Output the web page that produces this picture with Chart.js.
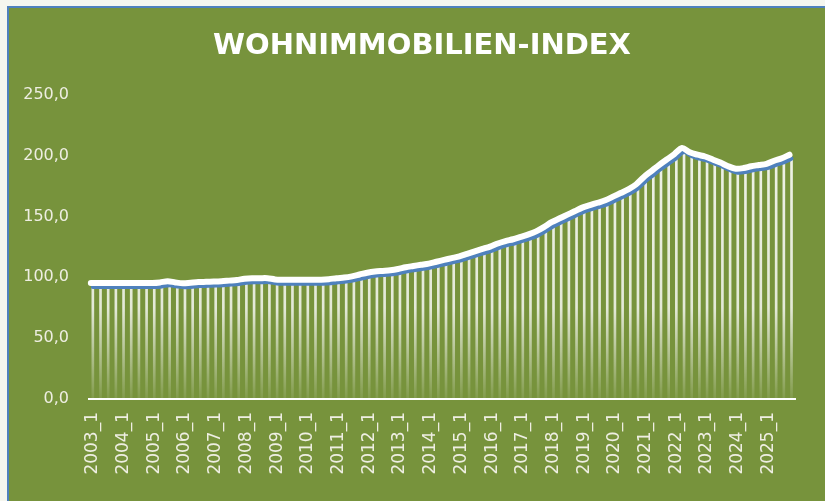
<!DOCTYPE html>
<html lang="de">
<head>
    <meta charset="UTF-8">
    <title>Wohnimmobilien-Index</title>
    <script src="https://cdn.jsdelivr.net/npm/chart.js"></script>
    <style>
        body {
            margin: 0;
            padding: 0;
            background: #f5f6ef;
            width: 825px;
            height: 501px;
            overflow: hidden;
            position: relative;
        }
        .frame {
            position: absolute;
            left: 7px;
            top: 6px;
            right: 0;
            bottom: 0;
            border-left: 2px solid #4f81bd;
            border-top: 2px solid #4f81bd;
            background: #77933c;
        }
        canvas {
            position: absolute;
            left: 0;
            top: 0;
        }
    </style>
</head>
<body>
    <div class="frame"></div>
    <canvas id="indexChart" width="825" height="501"></canvas>

    <script>
        // Quartale 2003_1 bis 2025_4
        const firstYear = 2003;
        const lastYear = 2025;
        const quarterLabels = [];
        for (let y = firstYear; y <= lastYear; y++) {
            for (let q = 1; q <= 4; q++) quarterLabels.push(y + '_' + q);
        }

        // Indexwerte je Quartal
        const indexValues = [
            92.0, 92.0, 92.0, 92.0,     // 2003
            92.0, 92.0, 92.0, 92.0,     // 2004
            92.0, 92.5, 93.5, 92.5,     // 2005
            91.8, 92.3, 92.8, 93.0,     // 2006
            93.2, 93.5, 94.0, 94.5,     // 2007
            95.5, 96.0, 96.0, 96.0,     // 2008
            95.0, 94.8, 94.8, 94.8,     // 2009
            94.8, 94.8, 94.8, 95.2,     // 2010
            96.0, 96.5, 97.5, 99.0,     // 2011
            100.5, 101.5, 102.0, 102.5, // 2012
            103.5, 105.0, 106.0, 107.0, // 2013
            108.0, 109.5, 111.0, 112.5, // 2014
            114.0, 116.0, 118.0, 120.0, // 2015
            122.0, 124.5, 126.5, 128.0, // 2016
            130.0, 132.0, 134.5, 138.0, // 2017
            142.0, 145.0, 148.0, 151.0, // 2018
            154.0, 156.0, 158.0, 160.0, // 2019
            163.0, 166.0, 169.0, 173.0, // 2020
            179.0, 184.0, 189.0, 193.5, // 2021
            198.0, 203.0, 199.5, 197.5, // 2022
            196.0, 193.5, 191.0, 188.0, // 2023
            186.0, 186.5, 188.0, 189.0, // 2024
            190.0, 192.5, 194.5, 197.5  // 2025
        ];

        const yTicks = [0, 50, 100, 150, 200, 250];

        const labelColor = '#eeeee2';

        // weisse "Schatten"-Linie leicht nach oben links versetzt
        const shiftPlugin = {
            id: 'shiftLine',
            beforeDatasetDraw(chart, args) {
                if (args.index === 2) {
                    chart.ctx.save();
                    chart.ctx.translate(-2, -4);
                }
            },
            afterDatasetDraw(chart, args) {
                if (args.index === 2) chart.ctx.restore();
            }
        };

        function dropGradient(context) {
            const area = context.chart.chartArea;
            if (!area) return 'rgba(255,255,255,0.8)';
            const g = context.chart.ctx.createLinearGradient(0, area.top, 0, area.bottom);
            g.addColorStop(0, 'rgba(255,255,255,0.9)');
            g.addColorStop(0.7, 'rgba(255,255,255,0.8)');
            g.addColorStop(1, 'rgba(255,255,255,0.08)');
            return g;
        }

        const ctx = document.getElementById('indexChart').getContext('2d');
        const chart = new Chart(ctx, {
            type: 'bar',
            data: {
                labels: quarterLabels,
                datasets: [
                    {
                        type: 'bar',
                        data: indexValues,
                        backgroundColor: dropGradient,
                        barThickness: 2,
                        order: 3
                    },
                    {
                        type: 'line',
                        data: indexValues,
                        borderColor: '#4f81bd',
                        borderWidth: 4,
                        pointRadius: 0,
                        tension: 0.3,
                        borderCapStyle: 'round',
                        borderJoinStyle: 'round',
                        clip: false,
                        order: 2
                    },
                    {
                        type: 'line',
                        data: indexValues,
                        borderColor: '#ffffff',
                        borderWidth: 6,
                        pointRadius: 0,
                        tension: 0.3,
                        borderCapStyle: 'round',
                        borderJoinStyle: 'round',
                        clip: false,
                        order: 1
                    }
                ]
            },
            options: {
                responsive: false,
                animation: false,
                layout: {
                    padding: { top: 8, left: 33, right: 14, bottom: 0 }
                },
                plugins: {
                    legend: { display: false },
                    tooltip: { enabled: false },
                    title: {
                        display: true,
                        text: 'WOHNIMMOBILIEN-INDEX',
                        color: '#ffffff',
                        font: { family: 'DejaVu Sans', weight: 'bold', size: 29 },
                        padding: { top: 21, bottom: 31 }
                    }
                },
                scales: {
                    x: {
                        offset: true,
                        grid: { display: false, drawTicks: false },
                        border: { display: true, color: '#ffffff', width: 2 },
                        afterFit: (scale) => {
                            scale.height = 102;
                        },
                        ticks: {
                            autoSkip: false,
                            maxRotation: 90,
                            minRotation: 90,
                            padding: 13,
                            color: labelColor,
                            font: { family: 'DejaVu Sans', size: 17 },
                            callback: (v, i) => (i % 4 === 0 ? quarterLabels[i] : '')
                        }
                    },
                    y: {
                        min: 0,
                        max: 250,
                        grid: { display: false, drawTicks: false },
                        border: { display: false },
                        afterBuildTicks: (scale) => {
                            scale.ticks = yTicks.map(v => ({ value: v }));
                        },
                        afterFit: (scale) => {
                            scale.width = 56;
                            // Beschriftung nicht auf die schmale Achsenbox beschneiden
                            scale._computeLabelArea = () => undefined;
                        },
                        ticks: {
                            padding: 20,
                            color: labelColor,
                            font: { family: 'DejaVu Sans', size: 16 },
                            callback: (v) => v.toFixed(1).replace('.', ',')
                        }
                    }
                }
            },
            plugins: [shiftPlugin]
        });
    </script>
</body>
</html>
